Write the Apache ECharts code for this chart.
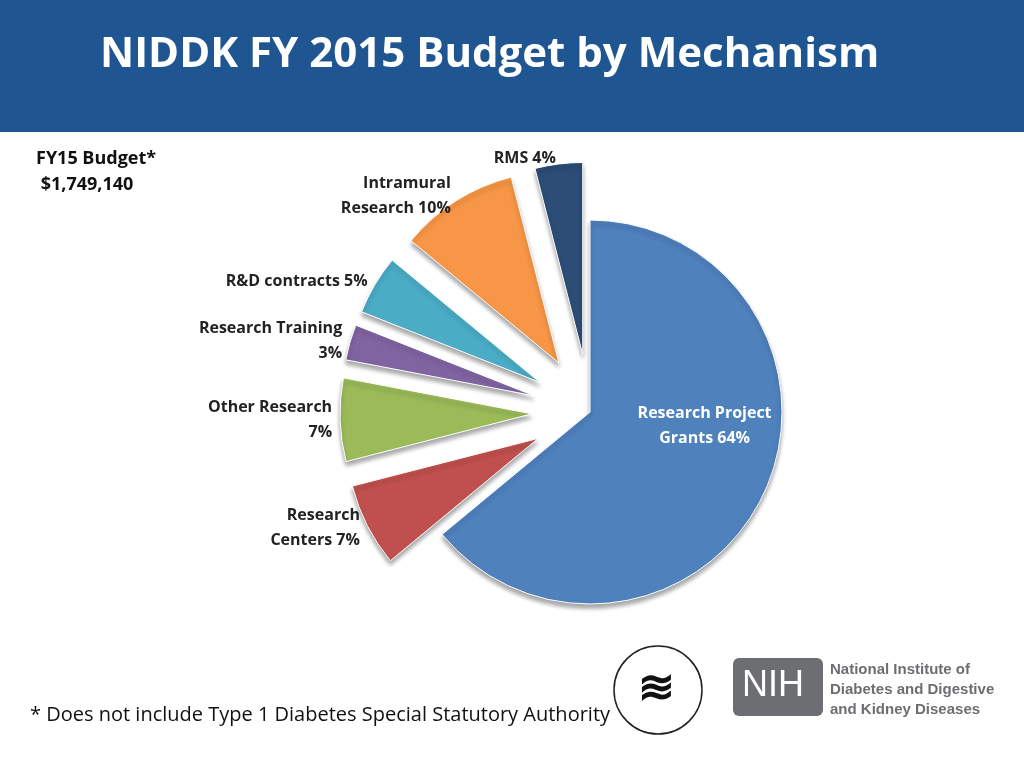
<!DOCTYPE html>
<html>
<head>
<meta charset="utf-8">
<script src="https://cdn.jsdelivr.net/npm/echarts@6/dist/echarts.min.js"></script>
<style>
  html, body { margin: 0; padding: 0; background: #fff; }
  #chart { width: 1024px; height: 768px; }
</style>
</head>
<body>
<div id="chart"></div>
<script>
const TITLE = 'NIDDK FY 2015 Budget by Mechanism';

const MECHANISMS = [ 'Research Project\nGrants 64%', 'Research\nCenters 7%', 'Other Research\n7%', 'Research Training\n3%', 'R&D contracts 5%', 'Intramural\nResearch 10%', 'RMS 4%' ];
const SHARES = [ 64, 7, 7, 3, 5, 10, 4 ];
const COLORS = [ '#4f81bd', '#c0504d', '#9bbb59', '#8064a2', '#4bacc6', '#f79646', '#2c4d75' ];

let chart = echarts.init(document.querySelector('#chart'));

let pieData = SHARES.map((value, i) => ({
  name: MECHANISMS[i],
  value: value,
  selected: i > 0,
  itemStyle: { color: COLORS[i] },
  label: i === 0
    ? { position: 'inside', color: '#fff', offset: [ 25, -28 ] }
    : { position: 'outside', color: '#222' }
}));

chart.setOption({
  animation: false,
  graphic: [
    { type: 'rect', shape: { x: 0, y: 0, width: 1024, height: 132 }, style: { fill: '#1f5590' } },
    { type: 'text', left: 100, top: 34, style: { text: TITLE, fill: '#fff', font: 'bold 42px "Open Sans", Calibri, sans-serif' } },
    { type: 'text', left: 36, top: 146, style: { text: 'FY15 Budget*\n $1,749,140', fill: '#111', font: 'bold 18px "Open Sans", sans-serif', lineHeight: 26 } },
    { type: 'text', left: 30, top: 705, style: { text: '* Does not include Type 1 Diabetes Special Statutory Authority', fill: '#111', font: '20px "Open Sans", sans-serif' } },
    { type: 'rect', shape: { x: 733, y: 658, width: 90, height: 58, r: 6 }, style: { fill: '#6d6e71' } },
    { type: 'text', left: 742, top: 668, style: { text: 'NIH', fill: '#fff', font: '36px Arial, sans-serif' } },
    { type: 'text', left: 830, top: 660, style: { text: 'National Institute of\nDiabetes and Digestive\nand Kidney Diseases', fill: '#6d6e71', font: 'bold 15px Arial, sans-serif', lineHeight: 20 } },
    { type: 'circle', shape: { cx: 658, cy: 690, r: 44 }, style: { fill: 'none', stroke: '#222', lineWidth: 1.5 } },
    { type: 'text', left: 638, top: 668, style: { text: '≋', fill: '#111', font: 'bold 44px sans-serif' } }
  ],
  series: [{
    type: 'pie',
    center: [ 590, 412 ],
    radius: [ 0, 192 ],
    startAngle: 90,
    clockwise: true,
    selectedMode: 'multiple',
    selectedOffset: 58,
    avoidLabelOverlap: false,
    label: { fontSize: 16, fontWeight: 'bold', fontFamily: '"Open Sans", sans-serif', lineHeight: 25, distanceToLabelLine: 2 },
    labelLine: { show: false, length: 6, length2: 0 },
    itemStyle: { borderColor: '#fff', borderWidth: 1, shadowColor: 'rgba(0,0,0,0.35)', shadowBlur: 4, shadowOffsetY: 4 },
    data: pieData
  }]
});
</script>
</body>
</html>
